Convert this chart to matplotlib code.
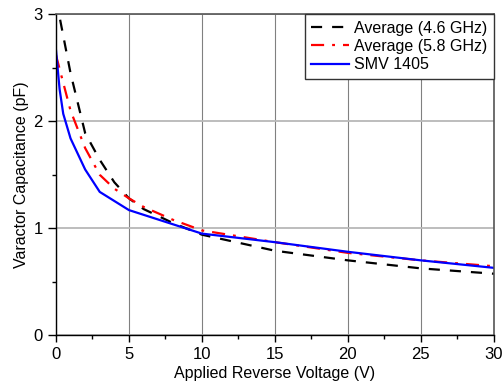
import matplotlib.pyplot as plt
from matplotlib.ticker import MultipleLocator

plt.rcParams['font.family'] = ['Liberation Sans', 'DejaVu Sans']

# measured C-V curves
v_46 = [0, 1, 2, 3, 4, 5, 6, 8, 10, 15, 20, 25, 30]
c_46 = [3.15, 2.45, 1.89, 1.64, 1.43, 1.28, 1.18, 1.05, 0.94, 0.79, 0.70, 0.625, 0.575]

v_58 = [0, 1, 2, 3, 4, 5, 6, 8, 10, 15, 20, 25, 30]
c_58 = [2.62, 2.10, 1.75, 1.50, 1.37, 1.28, 1.20, 1.08, 0.98, 0.87, 0.77, 0.70, 0.645]

# SMV 1405 datasheet
v_smv = [0, 0.25, 0.5, 1, 2, 3, 5, 10, 15, 20, 25, 30]
c_smv = [2.67, 2.30, 2.07, 1.84, 1.55, 1.34, 1.17, 0.95, 0.87, 0.78, 0.70, 0.63]

fig = plt.figure(figsize=(5.04, 3.88), dpi=100)
ax = fig.add_axes([0.111, 0.136, 0.869, 0.827])

ax.plot(v_46, c_46, color='black', lw=1.6, dashes=(5, 4.5), label='Average (4.6 GHz)')
ax.plot(v_58, c_58, color='red', lw=1.6, dashes=(5.9, 3.6, 1.3, 3.6), label='Average (5.8 GHz)')
ax.plot(v_smv, c_smv, color='blue', lw=1.6, label='SMV 1405')

ax.set_xlim(0, 30)
ax.set_ylim(0, 3)
ax.xaxis.set_major_locator(MultipleLocator(5))
ax.xaxis.set_minor_locator(MultipleLocator(2.5))
ax.yaxis.set_major_locator(MultipleLocator(1))
ax.yaxis.set_minor_locator(MultipleLocator(0.5))

ax.grid(True, axis='x', color='#808080', lw=0.8)
ax.grid(True, axis='y', color='#b8b8b8', lw=1.3)
ax.set_axisbelow(True)

for s in ['top', 'right']:
    ax.spines[s].set_color('#555555')
    ax.spines[s].set_linewidth(1.2)
for s in ['bottom', 'left']:
    ax.spines[s].set_color('black')
    ax.spines[s].set_linewidth(1.0)

ax.tick_params(axis='y', which='major', direction='out', length=6, width=1, pad=3.5)
ax.tick_params(axis='x', which='major', direction='out', length=5, width=1, pad=3.5)
ax.tick_params(which='major', labelsize=12)
ax.tick_params(which='minor', direction='out', length=3, width=1)

ax.set_xlabel('Applied Reverse Voltage (V)', fontsize=11.5, labelpad=3)
ax.set_ylabel('Varactor Capacitance (pF)', fontsize=11.5, labelpad=3)

leg = ax.legend(loc='upper right', fontsize=11.5, frameon=True, fancybox=False,
                borderaxespad=0, handlelength=2.4, handletextpad=0.3,
                labelspacing=0.2, borderpad=0.4)
leg.get_frame().set_edgecolor('#333333')
leg.get_frame().set_linewidth(1.0)
leg.get_frame().set_alpha(1)

fig.savefig('out.png', dpi=100)
